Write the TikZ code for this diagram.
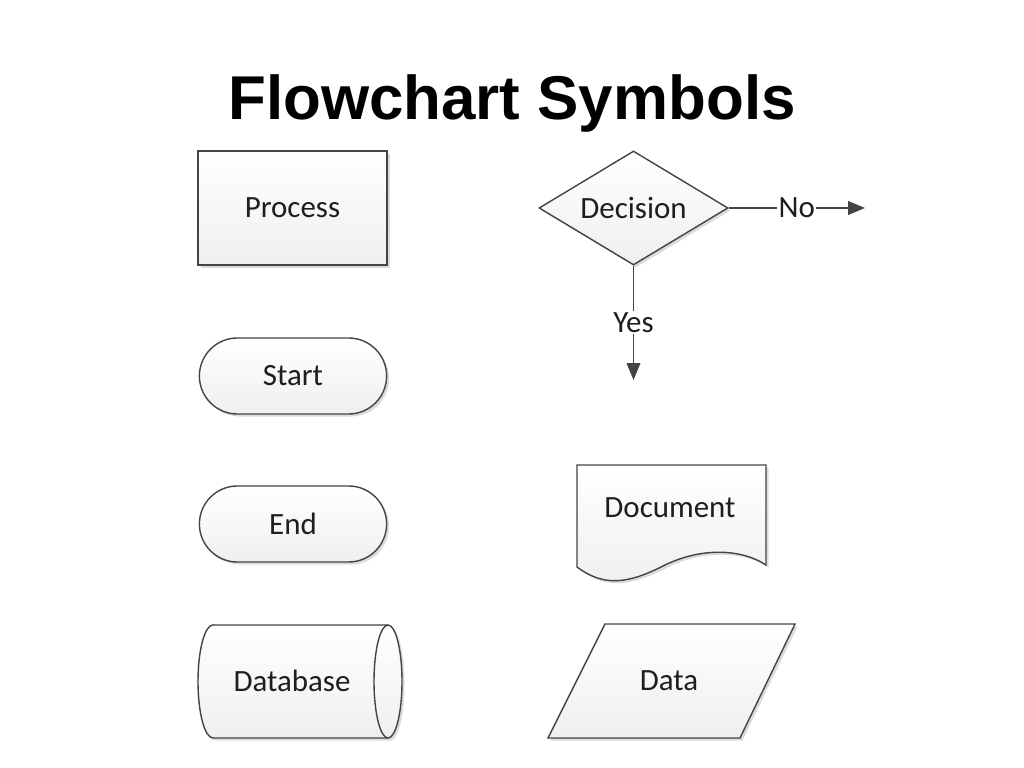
\documentclass[tikz,border=0pt]{standalone}
\usepackage{fontspec}
\setmainfont{Carlito}
\newfontfamily\titlefont{Liberation Sans}
\usetikzlibrary{arrows.meta,shapes.geometric,shapes.misc,shadows}

\begin{document}
\begin{tikzpicture}[x=0.025cm, y=0.025cm, >={Triangle[length=0.42cm,width=0.34cm]},
  symbol/.style={draw=symline, line width=1pt, top color=white, bottom color=symfill,
    drop shadow={shadow xshift=1.8pt, shadow yshift=-1.8pt, fill=black, opacity=0.14}},
  symlabel/.style={font=\fontsize{22}{26}\selectfont, text=symtext, inner sep=1pt},
  flow/.style={->, draw=symline, line width=1pt}]

\definecolor{symline}{RGB}{68,68,68}
\definecolor{symfill}{RGB}{239,239,239}
\definecolor{symtext}{RGB}{30,30,30}

\useasboundingbox (0,0) rectangle (1024,768);

\node[anchor=base, font=\titlefont\bfseries\fontsize{44}{50}\selectfont] (title) at (512,648) {Flowchart Symbols};

% left column
\node[symbol, symlabel, rectangle, minimum width=4.725cm, minimum height=2.85cm] (process) at (292.5,560) {Process};
\node[symbol, symlabel, rounded rectangle, minimum width=4.75cm, minimum height=1.9cm] (start) at (293,392) {Start};
\node[symbol, symlabel, rounded rectangle, minimum width=4.75cm, minimum height=1.9cm] (end) at (293,244) {End};

\draw[symbol] (213,143) -- (388,143) arc[start angle=90, end angle=-90, x radius=0.35cm, y radius=1.4125cm]
  -- (213,30) arc[start angle=270, end angle=90, x radius=0.375cm, y radius=1.4125cm] -- cycle;
\draw[symline, line width=1pt] (388,143) arc[start angle=90, end angle=270, x radius=0.35cm, y radius=1.4125cm];
\node[symlabel] (database) at (292,87) {Database};

% right column
\node[symbol, symlabel, diamond, aspect=1.66, minimum width=4.725cm, minimum height=2.85cm, inner sep=0pt] (decision) at (633.5,560) {Decision};
\coordinate (noend) at (865,560);
\coordinate (yesend) at (633.5,388);
\draw[flow] (decision.east) -- node[fill=white, symlabel] (no) {No} (noend);
\draw[flow] (decision.south) -- node[fill=white, symlabel] (yes) {Yes} (yesend);

\draw[symbol] (577,303) -- (766,303) -- (766,203) .. controls (740,220) and (700,220) .. (665,203)
  .. controls (630,185) and (605,180) .. (577,201) -- cycle;
\node[symlabel] (document) at (670,260) {Document};

\draw[symbol] (605,144) -- (795,144) -- (740,30) -- (548,30) -- cycle;
\node[symlabel] (data) at (669,87) {Data};

\end{tikzpicture}
\end{document}
